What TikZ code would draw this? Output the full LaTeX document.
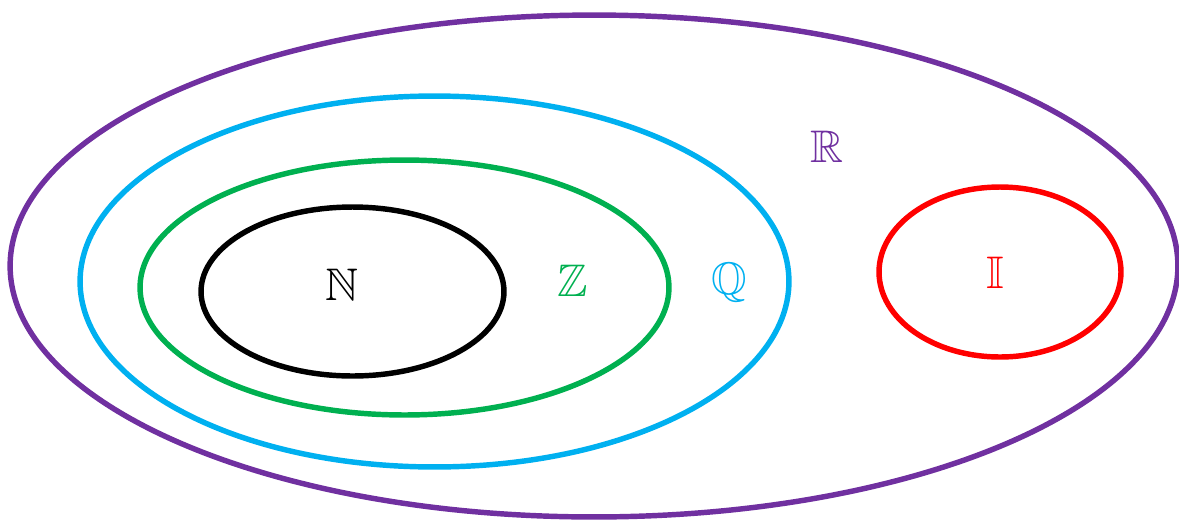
\documentclass[tikz,border=0pt]{standalone}
\usepackage{amsmath,amssymb}
\usepackage{tikz}
\usetikzlibrary{shapes.geometric}

\definecolor{setpurple}{HTML}{7030A0}
\definecolor{setcyan}{HTML}{00B0F0}
\definecolor{setgreen}{HTML}{00B050}
\definecolor{setred}{HTML}{FF0000}

\tikzset{
  setring/.style={draw=#1, ellipse, line width=3.1pt, inner sep=0pt},
  setname/.style={text=#1, font=\fontsize{26}{30}\selectfont, inner sep=0pt}
}

\begin{document}
\begin{tikzpicture}[x=0.02cm, y=-0.02cm]
        \useasboundingbox (0,0) rectangle (1179,521);

        \node (R) [setring=setpurple, minimum width=23.36cm, minimum height=10.04cm] at (594, 266) {};
        \node (Q) [setring=setcyan, minimum width=14.18cm, minimum height=7.42cm] at (434.5, 281.5) {};
        \node (Z) [setring=setgreen, minimum width=10.58cm, minimum height=5.1cm] at (404.5, 287.5) {};
        \node (N) [setring=black, minimum width=6.06cm, minimum height=3.38cm] at (352.5, 291.5) {};
        \node (I) [setring=setred, minimum width=4.84cm, minimum height=3.4cm] at (1000, 272) {};

        \node (labN) [setname=black] at (342, 285) {$\mathbb{N}$};
        \node (labZ) [setname=setgreen] at (573, 281) {$\mathbb{Z}$};
        \node (labQ) [setname=setcyan] at (729, 283) {$\mathbb{Q}$};
        \node (labR) [setname=setpurple] at (827, 147) {$\mathbb{R}$};
        \node (labI) [setname=setred] at (995, 273) {$\mathbb{I}$};
    \end{tikzpicture}
\end{document}
